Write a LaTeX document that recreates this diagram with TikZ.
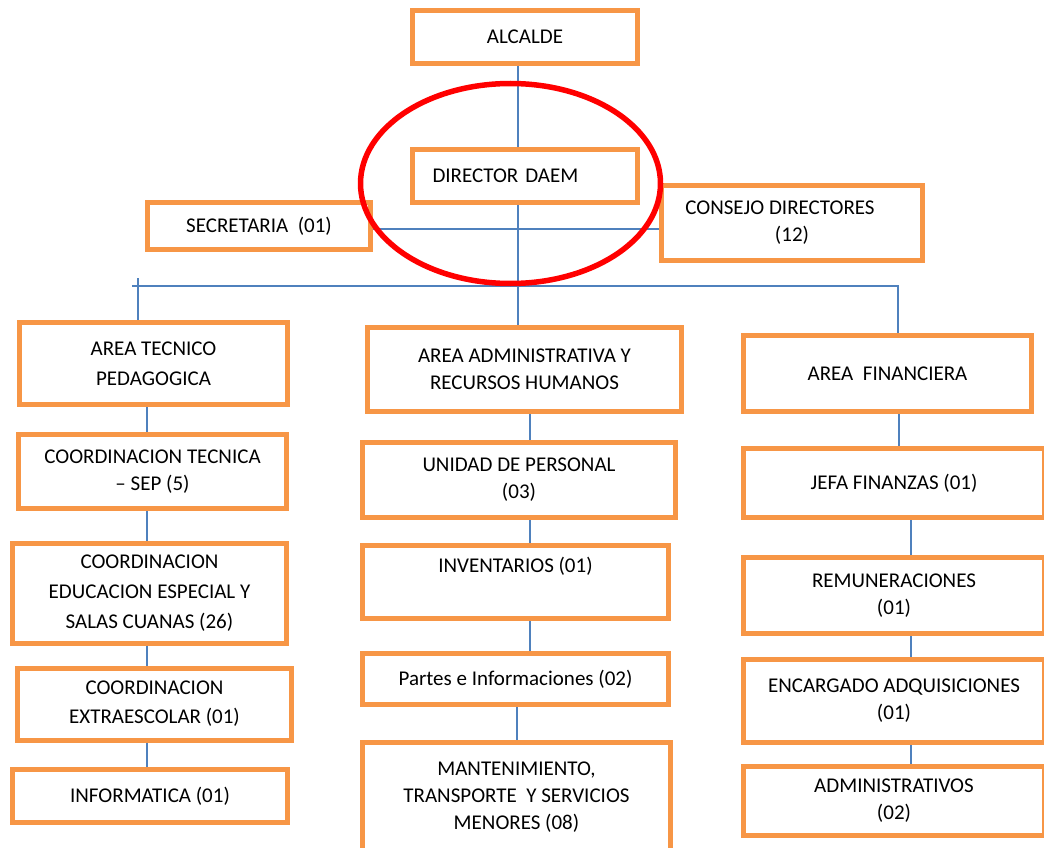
\documentclass[tikz,border=0pt]{standalone}
\usepackage{fontspec}
\setmainfont{Carlito}
\usepackage{xcolor}
\usepackage{tikz}
\usetikzlibrary{positioning}
\definecolor{boxorange}{HTML}{F79646}
\definecolor{lineblue}{HTML}{4F81BD}

\begin{document}
\begin{tikzpicture}[
        x=1pt, y=-1pt,
        unit/.style={rectangle, draw=boxorange, line width=5pt, fill=white, align=center, font=\fontsize{21}{27}\selectfont},
        link/.style={draw=lineblue, line width=1.5pt},
        focus/.style={draw=red, line width=5.5pt}
    ]
        \path[use as bounding box, clip] (0,0) rectangle (1044,848);

        % Top nodes
        \node[unit, minimum width=225pt, minimum height=53pt] (alcalde) at (525,37) {ALCALDE};
        \node[unit, minimum width=225pt, minimum height=53pt, text width=185pt, align=left, inner xsep=20pt] (director) at (525,176) {DIRECTOR DAEM};
        \node[unit, minimum width=223pt, minimum height=47pt] (secretaria) at (259,226) {SECRETARIA\ \ (01)};
        \node[unit, minimum width=261pt, minimum height=75pt] (consejo) at (792,223) {CONSEJO DIRECTORES\hspace*{24pt}\\(12)};

        % Left column
        \node[unit, minimum width=268pt, minimum height=82pt, font=\fontsize{21}{30}\selectfont] (tecnico) at (153.5,363.5) {AREA TECNICO\\PEDAGOGICA};
        \node[unit, minimum width=268pt, minimum height=74pt] (coordtec) at (152.5,471.5) {COORDINACION TECNICA\\-- SEP (5)};
        \node[unit, minimum width=274pt, minimum height=100pt, font=\fontsize{21}{30}\selectfont] (especial) at (149.5,593) {COORDINACION\\EDUCACION ESPECIAL Y\\SALAS CUANAS (26)};
        \node[unit, minimum width=274pt, minimum height=72pt, font=\fontsize{21}{29}\selectfont] (extra) at (154.5,704) {COORDINACION\\EXTRAESCOLAR (01)};
        \node[unit, minimum width=275pt, minimum height=53pt] (informatica) at (150,796) {INFORMATICA (01)};

        % Middle column
        \node[unit, minimum width=314pt, minimum height=84pt] (admin) at (524.5,369.5) {AREA ADMINISTRATIVA Y\\RECURSOS HUMANOS};
        \node[unit, minimum width=313pt, minimum height=75pt] (personal) at (519,480) {UNIDAD DE PERSONAL\\(03)};
        \node[unit, minimum width=306pt, minimum height=73pt] (inventarios) at (515.5,582) {INVENTARIOS (01)\\\strut};
        \node[unit, minimum width=306pt, minimum height=51pt] (partes) at (515.5,679) {Partes e Informaciones (02)};
        \node[unit, minimum width=308pt, minimum height=109pt] (mantencion) at (516.5,797) {MANTENIMIENTO,\\TRANSPORTE\ \ Y SERVICIOS\\MENORES (08)};

        % Right column
        \node[unit, minimum width=288pt, minimum height=76pt] (finanzas) at (887.5,373.5) {AREA\ \ FINANCIERA};
        \node[unit, minimum width=301pt, minimum height=69pt] (jefa) at (894,483) {JEFA FINANZAS (01)};
        \node[unit, minimum width=301pt, minimum height=76pt] (remuneraciones) at (894,595.5) {REMUNERACIONES\\(01)};
        \node[unit, minimum width=301pt, minimum height=83pt] (adquisiciones) at (894,701) {ENCARGADO ADQUISICIONES\\(01)};
        \node[unit, minimum width=301pt, minimum height=69pt] (administrativos) at (894,801) {ADMINISTRATIVOS\\(02)};

        % Line positions
        \coordinate (trunk) at (518,0);
        \coordinate (busL) at (132,286);
        \coordinate (busR) at (898,286);
        \coordinate (tickL) at (138,278);
        \coordinate (colL) at (147,0);
        \coordinate (colM) at (530,0);
        \coordinate (colMb) at (517,0);
        \coordinate (colR) at (899,0);
        \coordinate (colRb) at (911,0);

        % Edges
        \draw[link] (alcalde.south -| trunk) -- (director.north -| trunk);
        \draw[link] (director.south -| trunk) -- (admin.north -| trunk);
        \draw[link] ([yshift=-3pt]secretaria.east) -- ([yshift=-3pt]secretaria.east -| consejo.west);
        \draw[link] (busL) -- (busR) -- (busR |- finanzas.north);
        \draw[link] (tickL) -- (tickL |- tecnico.north);

        \draw[link] (tecnico.south -| colL) -- (coordtec.north -| colL);
        \draw[link] (coordtec.south -| colL) -- (especial.north -| colL);
        \draw[link] (especial.south -| colL) -- (extra.north -| colL);
        \draw[link] (extra.south -| colL) -- (informatica.north -| colL);

        \draw[link] (admin.south -| colM) -- (personal.north -| colM);
        \draw[link] (personal.south -| colM) -- (inventarios.north -| colM);
        \draw[link] (inventarios.south -| colM) -- (partes.north -| colM);
        \draw[link] (partes.south -| colMb) -- (mantencion.north -| colMb);

        \draw[link] (finanzas.south -| colR) -- (jefa.north -| colR);
        \draw[link] (jefa.south -| colRb) -- (remuneraciones.north -| colRb);
        \draw[link] (remuneraciones.south -| colRb) -- (adquisiciones.north -| colRb);
        \draw[link] (adquisiciones.south -| colRb) -- (administrativos.north -| colRb);

        % Highlight
        \draw[focus] (510.5,183.5) ellipse [x radius=150pt, y radius=100pt];
    \end{tikzpicture}
\end{document}
